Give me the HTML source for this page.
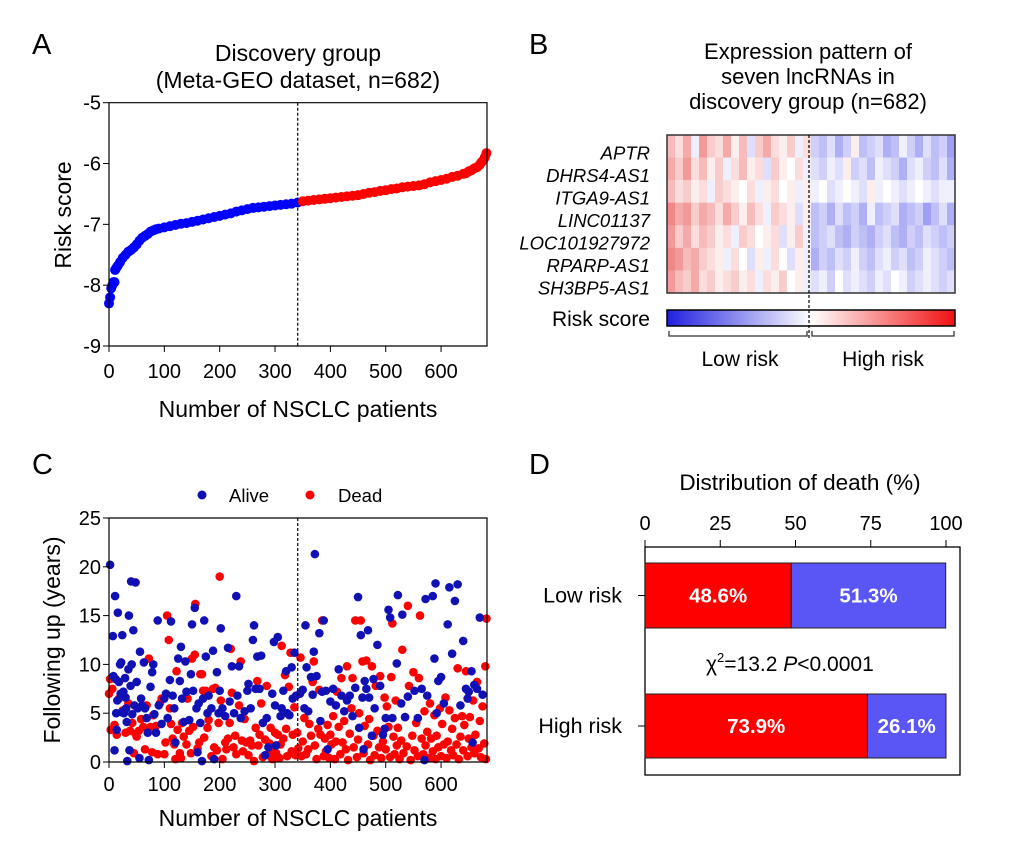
<!DOCTYPE html>
<html><head><meta charset="utf-8"><style>
body{margin:0;background:#fff;}
svg{display:block;font-family:"Liberation Sans",Arial,sans-serif;}
</style></head><body>
<svg id="fig" width="1020" height="868" viewBox="0 0 1020 868">
<rect width="1020" height="868" fill="#fff"/>
<g id="pa"></g>
<g id="pb"></g>
<g id="pc"></g>
<g id="pd"></g>
</svg>
<script>
// ---------- Panel A data ----------
const riskIdx = [0,2,4,6,8,10,11,13,16,20,25,30,35,40,45,50,55,60,65,70,75,80,85,90,100,110,120,130,140,150,160,170,180,190,200,210,220,230,240,250,260,270,280,290,300,310,320,330,341,350,360,370,380,390,400,410,420,430,440,450,460,470,480,490,500,510,520,530,540,550,560,570,580,590,600,610,620,630,640,645,650,655,660,665,670,673,676,679,682];
const riskVal = [-8.3,-8.2,-8.05,-8.0,-7.95,-7.95,-7.75,-7.72,-7.68,-7.62,-7.55,-7.5,-7.45,-7.42,-7.38,-7.33,-7.27,-7.22,-7.19,-7.16,-7.12,-7.1,-7.08,-7.07,-7.05,-7.03,-7.01,-6.99,-6.98,-6.96,-6.94,-6.92,-6.9,-6.88,-6.86,-6.84,-6.82,-6.79,-6.77,-6.75,-6.73,-6.72,-6.71,-6.7,-6.69,-6.68,-6.67,-6.66,-6.64,-6.62,-6.61,-6.6,-6.59,-6.58,-6.57,-6.56,-6.55,-6.54,-6.53,-6.52,-6.5,-6.48,-6.47,-6.45,-6.44,-6.42,-6.41,-6.39,-6.38,-6.37,-6.36,-6.34,-6.31,-6.29,-6.27,-6.25,-6.22,-6.2,-6.17,-6.16,-6.13,-6.11,-6.08,-6.06,-6.02,-5.98,-5.95,-5.9,-5.83];
const aXTicks = [0,100,200,300,400,500,600];
const aYTicks = [-5,-6,-7,-8,-9];
const cutoff = 341;

// ---------- Panel B data ----------
const genes = ["APTR","DHRS4-AS1","ITGA9-AS1","LINC01137","LOC101927972","RPARP-AS1","SH3BP5-AS1"];
const heat0 = [4,2,5,-1,6,3,2,5,1,4,-2,3,5,2,1,3,-1,2,-3,-4,-2,-5,-3,1,-4,-3,-2,-5,-4,-1,-3,-5,-2,-4,-3,-6];
const heat1 = [5,3,6,2,4,1,3,-1,2,4,1,2,-2,3,1,0,2,-1,-2,-3,-1,-2,1,-3,-2,-4,-1,-2,-3,-5,-2,-1,-3,-4,-2,-5];
const heat2 = [4,2,3,1,2,-1,3,2,1,0,2,-1,1,2,0,1,-1,1,-1,0,-2,-1,0,-1,-2,1,-1,0,-1,-2,-1,0,-1,-2,-1,-1];
const heat3 = [7,5,6,3,5,4,2,5,3,1,4,2,-1,3,2,1,-2,1,-4,-3,-5,-2,-4,-3,-5,-1,-4,-3,-2,-5,-4,-3,-6,-4,-2,-5];
const heat4 = [6,3,5,2,4,3,1,2,-1,3,2,0,1,2,-2,1,3,-1,-4,-3,-2,-4,-5,-3,-4,-5,-3,-2,-4,-5,-3,-4,-2,-3,-4,-3];
const heat5 = [7,6,4,5,3,2,1,-1,2,0,-2,1,-1,2,0,-2,1,-1,-5,-3,-4,-2,-3,-1,-3,-4,-2,-1,-3,-2,-4,-3,-1,-2,-3,-4];
const heat6 = [6,4,3,5,2,3,1,2,3,1,2,-1,2,1,3,0,1,-1,-2,-1,-3,0,-2,-1,-2,-3,-1,-2,0,-1,-3,-2,-1,-2,-3,-2];

// ---------- Panel C data ----------
const aliveX = [2,7,8,10,11,12,13,14,15,16,18,20,21,22,23,24,26,27,29,30,31,32,33,35,36,37,39,40,41,42,44,46,48,50,52,55,56,58,60,63,65,68,70,72,75,78,80,82,85,88,90,95,100,103,106,110,112,115,118,120,125,128,130,132,135,138,140,145,148,150,152,155,158,160,162,165,168,170,172,175,178,180,185,188,190,195,198,200,202,205,210,215,218,222,226,230,232,235,238,245,250,252,256,260,262,265,268,272,275,278,282,285,288,295,298,300,302,305,310,312,315,320,322,326,330,332,335,338,345,350,353,355,357,360,365,368,370,372,375,380,382,385,388,392,395,400,405,410,415,420,425,430,435,440,445,450,452,455,458,460,462,465,468,470,475,478,480,485,490,495,498,500,505,508,512,520,522,528,530,535,540,552,558,565,570,572,575,585,588,590,592,595,600,605,612,615,620,625,630,635,640,645,648,650,655,657,660,665,670,675];
const aliveY = [20.2,12.9,8.8,1.2,17,8.5,5,3.3,6.3,15.3,8.2,10,7,10.2,5.1,13,7.2,5,8.6,6.6,5.5,4.1,0.1,9.5,15,1.2,7.8,18.5,10,4.9,13.5,5.8,18.4,8.2,5.5,0.4,11.3,6.5,5.8,10.2,5.5,4.5,3,0.2,7.7,9.2,10,4.9,3,14.5,5.8,3.9,6.5,7,4.5,8.4,14.4,6.8,5.5,2,10.6,8.3,11.8,6.5,4.1,10.3,7.2,4.3,9,14.1,7.3,15.8,5.5,1,6,4,0.1,6.5,14.5,10.8,5,6.8,5.5,11.4,0.3,9.2,5,7.3,13.7,5.5,4.7,11.7,6.2,9.8,5,17,6.8,9.8,4.5,5.2,7.3,8,5.5,12.5,14,7.5,10.8,7.5,10.9,4,0.7,4.5,1.5,7,12.3,5.8,1.7,12.8,4.7,5.5,7.3,9.3,5,4.8,9.7,6.5,11.2,6.8,7,7.4,5.5,14,9.7,5.2,8.7,6.9,11.3,21.3,8.8,13.2,4.2,7.2,14.5,7.3,1.3,6.2,7.5,5.8,9.5,6.8,5.2,6.3,6.8,4.7,7.6,16.9,3.5,13,6.6,1.3,8.3,7.5,13.5,6.6,2.7,8.5,5.5,12,7.8,2.8,3.4,4.5,15.6,14.8,4.5,10.1,17.1,6,15.1,4.6,6.7,7.3,4.5,7.5,0.2,16.7,6.8,17,10.6,18.3,5,8.3,8.7,6,14.1,17.9,11.1,16.5,18.2,5.8,12.4,7.5,6.5,7.2,9.3,2,7.9,7.5,14.8,6.9];
const deadX = [0,2,3,6,10,14,18,25,30,35,38,42,45,48,50,54,58,62,65,68,72,75,78,80,85,88,92,95,100,102,105,108,110,112,115,118,120,122,124,128,130,132,135,140,142,145,148,150,152,155,156,160,163,165,168,170,172,175,178,180,185,188,190,192,195,198,200,202,205,210,212,215,218,220,222,225,228,230,235,238,240,242,245,248,252,255,258,262,265,268,270,272,275,278,282,285,288,290,292,295,298,300,302,305,308,310,312,315,318,320,322,325,328,330,332,335,337,340,342,346,348,350,353,356,360,362,365,368,370,372,375,378,380,382,385,388,390,392,395,398,400,402,405,408,410,412,415,418,420,422,425,428,430,432,435,438,440,442,445,448,450,452,455,458,460,462,465,468,470,472,475,478,480,482,485,488,490,492,495,498,500,502,505,508,510,512,514,516,518,520,522,525,528,530,532,535,538,540,542,545,548,550,552,555,558,560,562,565,568,570,572,575,578,580,582,585,588,590,592,595,598,600,602,605,608,610,612,615,618,620,622,625,628,630,632,635,638,640,642,645,648,650,652,655,658,660,662,665,668,670,672,675,678,680,682,681];
const deadY = [7,8.5,3.3,7.5,3.8,2.8,6.5,5.3,3,6,3.2,4,0.9,2.9,2.6,3.2,4.4,3.6,1.3,5.8,10.6,3.6,1,4.8,3.7,0.8,6,6.5,0.8,2,15,12.5,5.5,3.9,2.4,1.8,0.3,9.3,3.3,0.9,0.4,4,2.6,1.8,6.5,3.2,0.9,10.6,3.6,11,16.2,1.4,2,9,9,7.3,2.5,7.3,3.5,4.3,0.6,7.5,1.5,7.6,1.2,4,19,6.3,0.3,2,1.3,2.4,4,11.6,7.1,1.5,2.7,0.8,5.8,10.3,2.2,1.1,4.4,2,0.7,2.2,1.7,0.1,3.5,8.3,1.7,2.8,6,0.5,2.3,7.8,0.7,1.9,3.5,0.3,1.2,3,0.9,2.8,0.4,1.8,11.9,2.4,8.9,3.4,0.6,7.7,11.2,1.1,2.8,5.6,0.7,3,1.4,10.7,0.6,2.1,4.5,0.8,1.3,3.9,2.7,8.2,10.3,1.7,0.3,3.4,7.4,2.8,14.5,0.6,2.4,1.1,3.8,0.4,2.8,1.8,4.7,0.3,2.1,7.2,3.6,0.8,8.6,2,4.2,1.3,9.8,0.2,2.9,5.5,8.6,1.5,14.5,0.5,2.3,5,14.5,10.3,0.9,3.7,10.4,1.8,4.4,0.2,9.8,2.7,0.7,7.8,3.2,1.5,8.8,0.4,2.1,6.6,1.3,5.7,3.6,0.5,8.7,14.2,2.6,0.8,6.3,1.7,3.5,0.3,2.2,11.5,0.9,4.6,1.6,16,7.8,0.2,2.7,9.2,1.2,4,0.6,8.6,15,2.4,0.8,5.2,1.7,3.1,0.4,6,2.4,1.1,4.8,0.3,2.7,1.5,5.5,0.6,3.9,1.8,6.6,0.4,2.1,5.3,1.2,3.4,0.7,4.5,1.8,9.6,0.3,2.6,4.7,1.2,3.8,9.3,0.6,2.4,4.6,1.5,6.3,0.9,2.8,8.2,1.4,4.2,0.5,5.7,1.9,9.8,14.7,0.3];
const cYTicks = [0,5,10,15,20,25];
const cXTicks = [0,100,200,300,400,500,600];

// ---------- Panel D data ----------
const dGroups = ["Low risk","High risk"];
const dDead = [48.6,73.9];
const dAlive = [51.3,26.1];
const dTicks = [0,25,50,75,100];

const NS="http://www.w3.org/2000/svg";
function mk(parent,tag,attrs,text){const e=document.createElementNS(NS,tag);for(const k in attrs)e.setAttribute(k,attrs[k]);if(text!==undefined)e.textContent=text;parent.appendChild(e);return e;}

// ===== Panel A =====
(function(){
const g=document.getElementById('pa');
const x0=109,x1=487,y0=102.7,y1=346;
const sx=v=>x0+(v/683)*(x1-x0);
const sy=v=>y0+(-5-v)/4*(y1-y0);
let t;
t=mk(g,'text',{x:32,y:54,'font-size':29},'A');

t=mk(g,'text',{x:298,y:61,'font-size':23,'text-anchor':'middle'},'Discovery group');

t=mk(g,'text',{x:298,y:88,'font-size':23,'text-anchor':'middle'},'(Meta-GEO dataset, n=682)');

for(let i=0;i<riskIdx.length;i++){
  const c=mk(g,'circle',{cx:sx(riskIdx[i]),cy:sy(riskVal[i]),r:5,fill:riskIdx[i]<=cutoff?'#0000ff':'#ff0000'});
  
}
const ax=mk(g,'path',{d:`M${x0},${y0}H${x1}V${y1}H${x0}Z`,fill:'none',stroke:'#000','stroke-width':1.2});

const dl=mk(g,'line',{x1:sx(cutoff),x2:sx(cutoff),y1:y0,y2:y1,stroke:'#000','stroke-width':1.2,'stroke-dasharray':'3,2'});

aYTicks.forEach(v=>{mk(g,'line',{x1:x0-6,x2:x0,y1:sy(v),y2:sy(v),stroke:'#000'});
  const l=mk(g,'text',{x:x0-8,y:sy(v)+7,'font-size':20,'text-anchor':'end'},String(v));
  });
aXTicks.forEach(v=>{mk(g,'line',{x1:sx(v),x2:sx(v),y1:y1,y2:y1+6,stroke:'#000'});
  const l=mk(g,'text',{x:sx(v),y:378,'font-size':20,'text-anchor':'middle'},String(v));
  });
t=mk(g,'text',{x:298,y:417,'font-size':23,'text-anchor':'middle'},'Number of NSCLC patients');

t=mk(g,'text',{x:0,y:0,'font-size':23,'text-anchor':'middle',transform:'translate(71,215) rotate(-90)'},'Risk score');

})();

// ===== Panel B =====
(function(){
const g=document.getElementById('pb');
const hx0=667,hx1=955,hy0=135,hy1=293;
let t;
t=mk(g,'text',{x:529,y:54,'font-size':29},'B');

['Expression pattern of','seven lncRNAs in','discovery group (n=682)'].forEach((s,i)=>{
  const l=mk(g,'text',{x:808,y:59+i*25,'font-size':22,'text-anchor':'middle'},s);
  });
const rows=[heat0,heat1,heat2,heat3,heat4,heat5,heat6];
const rh=(hy1-hy0)/rows.length;
const col=v=>{const a=Math.min(1,Math.abs(v)/10);return v>=0?`rgb(${Math.round(255-20*a)},${Math.round(255-170*a)},${Math.round(255-170*a)})`:`rgb(${Math.round(255-160*a)},${Math.round(255-160*a)},${Math.round(255-20*a)})`;};
rows.forEach((r,i)=>{
  const cw=(hx1-hx0)/r.length;
  r.forEach((v,j)=>{const c=mk(g,'rect',{x:hx0+j*cw,y:hy0+i*rh,width:cw+0.5,height:rh+0.3,fill:col(v)});
    });
  const l=mk(g,'text',{x:650,y:hy0+i*rh+rh/2+13,'font-size':18.5,'font-style':'italic','text-anchor':'end'},genes[i]);
  
});
const fr=mk(g,'rect',{x:hx0,y:hy0,width:hx1-hx0,height:hy1-hy0,fill:'none',stroke:'#333','stroke-width':1.5});

const defs=mk(g,'defs',{});const gr=mk(defs,'linearGradient',{id:'rg',x1:0,x2:1,y1:0,y2:0});
mk(gr,'stop',{offset:'0','stop-color':'#2020e0'});mk(gr,'stop',{offset:'0.5','stop-color':'#ffffff'});mk(gr,'stop',{offset:'1','stop-color':'#f01010'});
const cb=mk(g,'rect',{x:hx0,y:310,width:hx1-hx0,height:16,fill:'url(#rg)',stroke:'#000','stroke-width':1.5});

t=mk(g,'text',{x:650,y:326,'font-size':21,'text-anchor':'end'},'Risk score');

const dl=mk(g,'line',{x1:809,x2:809,y1:hy0,y2:340,stroke:'#000','stroke-width':1.2,'stroke-dasharray':'3,2'});

const b1=mk(g,'path',{d:'M669,331V336H807V331',fill:'none',stroke:'#333','stroke-width':1.3});

const b2=mk(g,'path',{d:'M812,331V336H954V331',fill:'none',stroke:'#333','stroke-width':1.3});

t=mk(g,'text',{x:740,y:366,'font-size':21,'text-anchor':'middle'},'Low risk');

t=mk(g,'text',{x:883,y:366,'font-size':21,'text-anchor':'middle'},'High risk');

})();

// ===== Panel C =====
(function(){
const g=document.getElementById('pc');
const x0=109,x1=487,y0=518,y1=762;
const sx=v=>x0+(v/683)*(x1-x0);
const sy=v=>y1-(v/25)*(y1-y0);
let t;
t=mk(g,'text',{x:32,y:474,'font-size':29},'C');

let c=mk(g,'circle',{cx:202,cy:495,r:4.5,fill:'#1010b4'});
t=mk(g,'text',{x:229,y:502,'font-size':18.5},'Alive');
c=mk(g,'circle',{cx:310,cy:495,r:4.5,fill:'#ff0000'});
t=mk(g,'text',{x:338,y:502,'font-size':18.5},'Dead');
deadX.forEach((x,i)=>{const p=mk(g,'circle',{cx:sx(x),cy:sy(deadY[i]),r:4.3,fill:'#ff0000'});
  });
aliveX.forEach((x,i)=>{const p=mk(g,'circle',{cx:sx(x),cy:sy(aliveY[i]),r:4.3,fill:'#1010b4'});
  });
const fr=mk(g,'path',{d:`M${x0},${y0}H${x1}V${y1}H${x0}Z`,fill:'none',stroke:'#000','stroke-width':1.2});

const dl=mk(g,'line',{x1:sx(cutoff),x2:sx(cutoff),y1:y0,y2:y1,stroke:'#000','stroke-width':1.2,'stroke-dasharray':'3,2'});

cYTicks.forEach(v=>{mk(g,'line',{x1:x0-6,x2:x0,y1:sy(v),y2:sy(v),stroke:'#000'});
  const l=mk(g,'text',{x:x0-8,y:sy(v)+7,'font-size':20,'text-anchor':'end'},String(v));
  });
cXTicks.forEach(v=>{mk(g,'line',{x1:sx(v),x2:sx(v),y1:y1,y2:y1+6,stroke:'#000'});
  const l=mk(g,'text',{x:sx(v),y:791,'font-size':20,'text-anchor':'middle'},String(v));
  });
t=mk(g,'text',{x:298,y:826,'font-size':23,'text-anchor':'middle'},'Number of NSCLC patients');

t=mk(g,'text',{x:0,y:0,'font-size':23,'text-anchor':'middle',transform:'translate(60,640) rotate(-90)'},'Following up (years)');

})();

// ===== Panel D =====
(function(){
const g=document.getElementById('pd');
const x0=645,x1=946,by0=547,by1=775,bx1=960;
const sx=v=>x0+v/100*(x1-x0);
const rowsY=[[563,628],[694,758]];
let t;
t=mk(g,'text',{x:529,y:474,'font-size':29},'D');

t=mk(g,'text',{x:800,y:490,'font-size':22.5,'text-anchor':'middle'},'Distribution of death (%)');

const fr=mk(g,'rect',{x:x0,y:by0,width:bx1-x0,height:by1-by0,fill:'none',stroke:'#000','stroke-width':1.3});

dTicks.forEach(v=>{mk(g,'line',{x1:sx(v),x2:sx(v),y1:by0-7,y2:by0,stroke:'#000'});
  const l=mk(g,'text',{x:sx(v),y:530,'font-size':20,'text-anchor':'middle'},String(v));
  });
dGroups.forEach((grp,i)=>{
  const [ya,yb]=rowsY[i];const ym=(ya+yb)/2;
  const r1=mk(g,'rect',{x:x0,y:ya,width:sx(dDead[i])-x0,height:yb-ya,fill:'#ff0000',stroke:'#222','stroke-width':1});
  
  const r2=mk(g,'rect',{x:sx(dDead[i]),y:ya,width:sx(dDead[i]+dAlive[i])-sx(dDead[i]),height:yb-ya,fill:'#5a55f5',stroke:'#222','stroke-width':1});
  
  let l=mk(g,'text',{x:(x0+sx(dDead[i]))/2,y:ym+7,'font-size':20.5,'font-weight':'bold',fill:'#fff','text-anchor':'middle'},dDead[i].toFixed(1)+'%');
  
  l=mk(g,'text',{x:(sx(dDead[i])+sx(dDead[i]+dAlive[i]))/2,y:ym+7,'font-size':20.5,'font-weight':'bold',fill:'#fff','text-anchor':'middle'},dAlive[i].toFixed(1)+'%');
  
  mk(g,'line',{x1:x0-7,x2:x0,y1:ym,y2:ym,stroke:'#000'});
  l=mk(g,'text',{x:622,y:ym+7,'font-size':21.5,'text-anchor':'end'},grp);
  
});
t=mk(g,'text',{x:706,y:671,'font-size':21});

t.setAttribute('xml:space','preserve');
t.innerHTML='χ<tspan dy="-9" font-size="13">2</tspan><tspan dy="9">=13.2  </tspan><tspan font-style="italic">P</tspan><tspan>&lt;0.0001</tspan>';
})();
</script>
</body></html>
